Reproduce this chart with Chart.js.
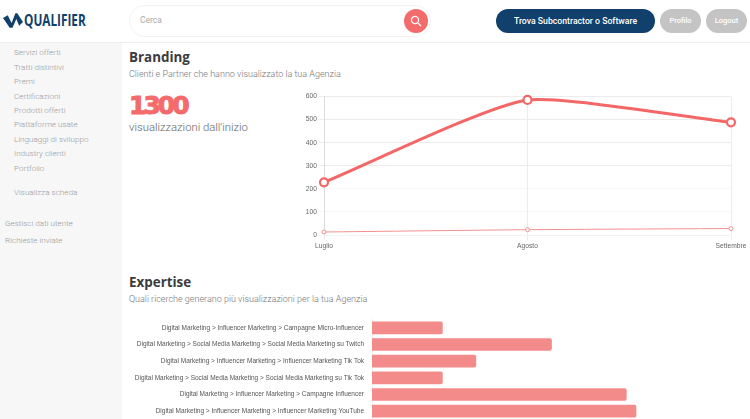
<!DOCTYPE html>
<html>
<head>
<meta charset="utf-8">
<script src="https://cdn.jsdelivr.net/npm/chart.js@4"></script>
<style>
  html, body { margin: 0; width: 750px; height: 419px; overflow: hidden; background: #fff; }
  body { position: relative; font-family: Roboto, sans-serif; color: #444; }
  .abs { position: absolute; white-space: nowrap; }
  #sidebar { position: absolute; left: 0; top: 43px; width: 122px; height: 376px; background: #f7f7f7; }
  #headerLine { position: absolute; left: 0; top: 42px; width: 750px; height: 1px; background: #efefef; }
  .side { position: absolute; font-size: 8.1px; font-weight: 300; color: #999; line-height: 10px; white-space: nowrap; }
  .pill { position: absolute; border-radius: 13px; color: #fff; font-weight: 500; font-size: 8.7px; text-align: center; line-height: 24px; top: 9px; height: 24px; }
  h2 { position: absolute; margin: 0; left: 129px; font-size: 13.4px; line-height: 16px; font-weight: 700; color: #3c3c3c; font-family: "Open Sans", sans-serif; }
  .sub { position: absolute; left: 129px; font-size: 9px; line-height: 11px; font-weight: 300; color: #777; white-space: nowrap; }
  #lineWrap { position: absolute; left: 300px; top: 85px; width: 450px; height: 170px; }
  #barWrap { position: absolute; left: 120px; top: 310px; width: 630px; height: 120px; }
</style>
</head>
<body>
<svg class="abs" style="left:3px;top:12px" width="20" height="17" viewBox="0 0 21 17">
  <path d="M0 6 L5 3 L9 11 L13 1 L15 1 L21 10 L17 14 L14 7 L10 16 L7 16 Z" fill="#10406b"/>
</svg>
<div class="abs" style="left:24px;top:11px;font:700 15.5px/19px 'Open Sans',sans-serif;color:#10406b;transform:scaleX(.76);transform-origin:left">QUALIFIER</div>

<div class="abs" style="left:129px;top:5px;width:300px;height:30px;border:1px solid #f3f3f3;border-radius:16px"></div>
<div class="abs" style="left:140px;top:15px;font-size:8.5px;line-height:11px;color:#aaa">Cerca</div>
<div class="abs" style="left:404px;top:9px;width:24px;height:24px;border-radius:50%;background:#f46b6b"></div>
<svg class="abs" style="left:410px;top:15px" width="12" height="12" viewBox="0 0 12 12">
  <circle cx="5" cy="5" r="3.6" fill="none" stroke="#fff" stroke-width="1.2"/>
  <path d="M8 8 L11 11" stroke="#fff" stroke-width="1.2"/>
</svg>
<div class="pill" style="left:496px;width:159px;background:#10406b">Trova Subcontractor o Software</div>
<div class="pill" style="left:660px;width:41px;background:#c4c4c4;font-size:7.5px">Profilo</div>
<div class="pill" style="left:706px;width:41px;background:#c4c4c4;font-size:7.5px">Logout</div>
<div id="headerLine"></div>

<div id="sidebar"></div>
<div class="side" style="left:14px;top:47px">Servizi offerti</div>
<div class="side" style="left:14px;top:62px">Tratti distintivi</div>
<div class="side" style="left:14px;top:76px">Premi</div>
<div class="side" style="left:14px;top:91px">Certificazioni</div>
<div class="side" style="left:14px;top:105px">Prodotti offerti</div>
<div class="side" style="left:14px;top:119px">Piattaforme usate</div>
<div class="side" style="left:14px;top:134px">Linguaggi di sviluppo</div>
<div class="side" style="left:14px;top:148px">Industry clienti</div>
<div class="side" style="left:14px;top:163px">Portfolio</div>
<div class="side" style="left:14px;top:187px">Visualizza scheda</div>
<div class="side" style="left:5px;top:218px">Gestisci dati utente</div>
<div class="side" style="left:5px;top:235px">Richieste inviate</div>

<h2 style="top:49px">Branding</h2>
<div class="sub" style="top:69px">Clienti e Partner che hanno visualizzato la tua Agenzia</div>
<div class="abs" style="left:129px;top:92px;font:700 25px/28px 'DejaVu Sans',sans-serif;color:#f46b6b;letter-spacing:-3px;-webkit-text-stroke:1px #f46b6b">1300</div>
<div class="abs" style="left:129px;top:121px;font-size:11.3px;line-height:14px;font-weight:300;color:#666">visualizzazioni dall'inizio</div>

<h2 style="top:274px">Expertise</h2>
<div class="sub" style="top:294px">Quali ricerche generano più visualizzazioni per la tua Agenzia</div>

<div id="lineWrap"><canvas id="lineChart" width="450" height="170"></canvas></div>
<div id="barWrap"><canvas id="barChart" width="630" height="120"></canvas></div>

<script>
const months = ['Luglio', 'Agosto', 'Settembre'];
const viewsTotal = [228, 585, 488];
const viewsPartner = [13, 23, 28];

const searches = [
  'Digital Marketing > Influencer Marketing > Campagne Micro-Influencer',
  'Digital Marketing > Social Media Marketing > Social Media Marketing su Twitch',
  'Digital Marketing > Influencer Marketing > Influencer Marketing Tik Tok',
  'Digital Marketing > Social Media Marketing > Social Media Marketing su Tik Tok',
  'Digital Marketing > Influencer Marketing > Campagne Influencer',
  'Digital Marketing > Influencer Marketing > Influencer Marketing YouTube'
];
const searchViews = [4, 10.2, 5.9, 4, 14.45, 15];

const coral = '#f46767';
const tickFont = { family: '"Liberation Sans", Arial, sans-serif', size: 6.7 };

// Line chart
new Chart(document.getElementById('lineChart'), {
  type: 'line',
  data: {
    labels: months,
    datasets: [
      {
        data: viewsTotal,
        borderColor: coral,
        borderWidth: 3,
        tension: 0.2,
        pointRadius: 4,
        pointBorderWidth: 2.2,
        pointBackgroundColor: '#fff',
        pointBorderColor: coral,
        fill: false
      },
      {
        data: viewsPartner,
        borderColor: '#f58f8f',
        borderWidth: 1,
        tension: 0.2,
        pointRadius: 2,
        pointBorderWidth: 1,
        pointBackgroundColor: '#fff',
        pointBorderColor: '#f58f8f',
        fill: false
      }
    ]
  },
  options: {
    responsive: false,
    animation: false,
    clip: false,
    layout: { padding: { top: 11.5, right: 19, left: 0, bottom: 0 } },
    plugins: { legend: { display: false }, tooltip: { enabled: false } },
    scales: {
      y: {
        min: 0,
        max: 600,
        ticks: { stepSize: 100, font: tickFont, color: '#666', padding: 2 },
        grid: {
          color: ctx => ctx.tick.value > 200 ? '#ececec' : '#f7f7f7',
          tickLength: 5
        },
        border: { color: '#dedede' },
        afterFit: scale => { scale.width = 24; }
      },
      x: {
        ticks: { font: tickFont, color: '#666', padding: 2, maxRotation: 0 },
        grid: { color: '#ececec', tickLength: 5 },
        border: { color: '#f3f3f3' },
        afterFit: scale => { scale.height = 20; }
      }
    }
  }
});

// Bar chart
new Chart(document.getElementById('barChart'), {
  type: 'bar',
  data: {
    labels: searches,
    datasets: [{
      data: searchViews,
      backgroundColor: '#f48b8b',
      borderRadius: 2,
      barThickness: 12
    }]
  },
  options: {
    indexAxis: 'y',
    responsive: false,
    animation: false,
    layout: { padding: { top: 9.5, right: 26, left: 0, bottom: 10.5 } },
    plugins: { legend: { display: false }, tooltip: { enabled: false } },
    scales: {
      x: { display: false, min: 0, max: 20 },
      y: {
        ticks: { font: { family: tickFont.family, size: 6.5 }, color: '#555', padding: 0, autoSkip: false },
        grid: { display: false },
        border: { color: '#f0f0f0' },
        afterFit: scale => { scale.width = 252; }
      }
    }
  }
});
</script>
</body>
</html>
